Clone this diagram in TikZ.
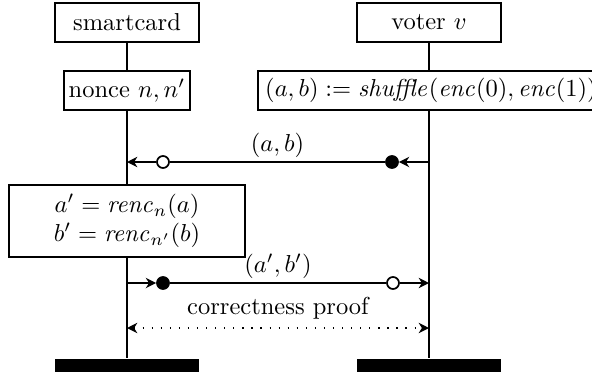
\documentclass[tikz,border=0pt]{standalone}
\usetikzlibrary{arrows.meta}
\begin{document}
\begin{tikzpicture}[x=0.40816pt,y=-0.40816pt, line width=0.7pt,
  box/.style={draw, fill=white, inner sep=2pt, minimum height=15.9pt},
  actor/.style={box, minimum width=58.8pt},
  endbar/.style={fill=black, minimum width=58.8pt, minimum height=5.6pt, inner sep=0pt},
  fdot/.style={circle, fill=black, draw, inner sep=0pt, minimum size=4.9pt},
  odot/.style={circle, fill=white, draw, inner sep=0pt, minimum size=4.9pt},
  tip/.tip={Stealth[length=4.2pt,width=4.2pt,inset=1.3pt]},
  msg/.style={-tip},
  lbl/.style={above, inner sep=1.5pt},
  proofline/.style={tip-tip, dash pattern=on 0.5pt off 3.2pt}
]
\useasboundingbox (0,0) rectangle (592,375);

% participants
\node[actor] (sc) at (127,22.5) {smartcard};
\node[actor] (vo) at (429,22.5) {voter $v$};
\node[box] (nonce) at (127,90.5) {nonce $n,n'$};
\node[box, inner xsep=3pt] (shuf) at (431,90.5) {$(a,b) := \mathit{shuffle}(\mathit{enc}(0),\mathit{enc}(1))$};
\node[box, minimum width=96.3pt, minimum height=29.4pt, align=center] (renc) at (127,221)
  {$a'=\mathit{renc}_n(a)$\\$b'=\mathit{renc}_{n'}(b)$};
\node[endbar] (b1) at (127,365.5) {};
\node[endbar] (b2) at (429,365.5) {};

% lifelines
\draw (sc) -- (nonce);
\draw (nonce) -- (renc);
\draw (renc) -- (b1.north);
\draw (vo) -- (vo |- shuf.north);
\draw (vo |- shuf.south) -- (b2.north);

% message 1
\coordinate (m1r) at (429,162);
\coordinate (m1l) at (127,162);
\node[fdot] (m1f) at (392,162) {};
\node[odot] (m1o) at (163,162) {};
\draw[msg] (m1r) -- (m1f);
\draw (m1f) -- node[lbl] {$(a,b)$} (m1o);
\draw[msg] (m1o) -- (m1l);

% message 2
\coordinate (m2l) at (127,283);
\coordinate (m2r) at (429,283);
\node[fdot] (m2f) at (163,283) {};
\node[odot] (m2o) at (393,283) {};
\draw[msg] (m2l) -- (m2f);
\draw (m2f) -- node[lbl] {$(a',b')$} (m2o);
\draw[msg] (m2o) -- (m2r);

% correctness proof
\coordinate (pl) at (127,328);
\coordinate (pr) at (429,328);
\draw[proofline] (pl) -- node[above] {correctness proof} (pr);
\end{tikzpicture}
\end{document}
